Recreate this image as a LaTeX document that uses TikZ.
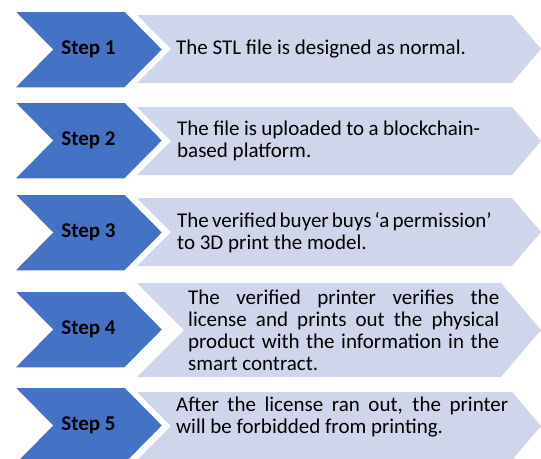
\documentclass[tikz,border=0pt]{standalone}
\usepackage{fontspec}
\setmainfont{Carlito}
\definecolor{stepblue}{RGB}{68,114,196}
\definecolor{steplight}{RGB}{207,213,234}
\newcommand{\jline}[2]{\makebox[#1][s]{#2}}
\begin{document}
\begin{tikzpicture}[x=1pt,y=-1pt,
  bluechev/.style={fill=stepblue,draw=white,line width=1.5pt,line join=miter},
  lightchev/.style={fill=steplight,draw=none},
  steplabel/.style={font=\fontsize{21}{22}\selectfont\bfseries,text=black,inner sep=0pt},
  bodytext/.style={font=\fontsize{21}{22}\selectfont,text=black,inner sep=0pt,anchor=west,align=left}]
\useasboundingbox (0,0) rectangle (541,458);
\fill[white] (0,0) rectangle (541,458);
% light chevrons: top, bottom
\foreach \t/\b in {15/83,107/175,198/266,283/377,392/460}{
  \pgfmathsetmacro{\h}{(\b-\t)/2}
  \pgfmathsetmacro{\c}{(\b+\t)/2}
  \pgfmathsetmacro{\rx}{541-0.853*\h}
  \pgfmathsetmacro{\nx}{137+\h}
  \path[lightchev] (137,\t) -- (\rx,\t) -- (541,\c) -- (\rx,\b) -- (137,\b) -- (\nx,\c) -- cycle;
}
% blue chevrons: centre
\foreach \c in {49.5,140.5,232.5,329.5,425.5}{
  \path[bluechev] (14,\c-38.5) -- (125,\c-38.5) -- (163,\c) -- (125,\c+38.5) -- (14,\c+38.5) -- (52,\c) -- cycle;
}
\node[steplabel] (s1) at (88.5,49.5) {Step 1};
\node[steplabel] (s2) at (88.5,140.5) {Step 2};
\node[steplabel] (s3) at (88.5,232.5) {Step 3};
\node[steplabel] (s4) at (88.5,329.5) {Step 4};
\node[steplabel] (s5) at (88.5,425.5) {Step 5};

\node[bodytext] (t1) at (176,49) {The STL file is designed as normal.};
\node[bodytext] (t2) at (177,141) {\jline{303pt}{The file is uploaded to a blockchain-}\\based platform.};
\node[bodytext] (t3) at (177,233) {\jline{311pt}{The verified buyer buys ‘a permission’}\\to 3D print the model.};
\node[bodytext] (t4) at (188,330) {\jline{311pt}{The verified printer verifies the}\\\jline{311pt}{license and prints out the physical}\\\jline{311pt}{product with the information in the}\\smart contract.};
\node[bodytext] (t5) at (176,417) {\jline{332pt}{After the license ran out, the printer}\\will be forbidded from printing.};
\end{tikzpicture}
\end{document}
